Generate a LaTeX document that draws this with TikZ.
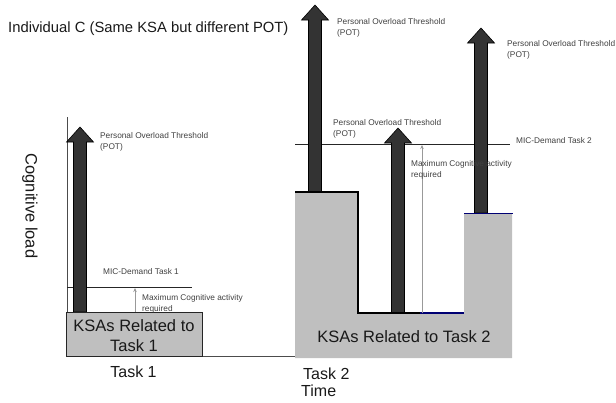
\documentclass[tikz,border=0pt]{standalone}
\usepackage{fontspec}
\setmainfont{Liberation Sans}
\usetikzlibrary{arrows.meta}

% Upward block arrow: #1 = centre x, #2 = foot y, #3 = tip y
\newcommand\potarrow[3]{%
  \filldraw[potshape]
    (#1-6.5,#2) -- (#1-6.5,#3+15) -- (#1-13.5,#3+15) -- (#1,#3)
    -- (#1+13.5,#3+15) -- (#1+6.5,#3+15) -- (#1+6.5,#2) -- cycle;}

\begin{document}
\begin{tikzpicture}[x=1pt,y=-1pt,
  potshape/.style={fill=black!80, draw=black, line width=0.6pt},
  ksafill/.style={fill=black!25},
  small/.style={font=\fontsize{8.3}{11}\selectfont, text=black!75, align=left, inner sep=0pt},
  big/.style={font=\fontsize{16.5}{20}\selectfont, text=black!90, inner sep=0pt},
  axisline/.style={draw=black!70, line width=0.6pt},
  micline/.style={draw=black!85, line width=0.9pt},
  reqarrow/.style={draw=black!40, line width=0.6pt, -{Stealth[length=4pt,width=3.5pt]}},
  thickedge/.style={draw=black, line width=2.6pt},
  blueedge/.style={draw=blue!45!black}
]
\useasboundingbox (0,0) rectangle (616,402);

% title and axis titles
\node[anchor=base west, inner sep=0pt, font=\fontsize{14.8}{17}\selectfont, text=black!90]
  (title) at (8,32) {Individual C (Same KSA but different POT)};
\node[big, rotate=-90] (ylabel) at (30,206) {Cognitive load};

% axes
\coordinate (ytop) at (67,117);
\coordinate (origin) at (67,356);
\coordinate (xend) at (295,356);
\draw[axisline] (ytop) -- (origin) -- (xend);

% ---- Task 2 KSA block (stepped grey region)
\fill[ksafill] (295,358) -- (295,192) -- (358,192) -- (358,313) -- (464,313)
  -- (464,213) -- (512,213) -- (512,358) -- cycle;
\node[big] (ksa2) at (404,337) {KSAs Related to Task 2};

% demand lines
\coordinate (mic1a) at (67,287);
\coordinate (mic1b) at (192,287);
\draw[micline] (mic1a) -- (mic1b);
\coordinate (mic2a) at (295,144);
\coordinate (mic2b) at (510,144);
\draw[micline] (mic2a) -- (mic2b);

% POT arrows
\potarrow{80}{312}{127}
\potarrow{315}{192}{5}
\potarrow{398}{313}{128}
\potarrow{481}{213}{28}

% edges of the Task 2 block
\draw[thickedge] (295,192) -- (358,192) -- (358,313) -- (420,313);
\draw[blueedge, line width=1.6pt] (420,313) -- (464,313);
\draw[blueedge, line width=0.8pt] (464,213) -- (513,213);

% ---- Task 1 KSA box
\node[draw=black!85, line width=1pt, ksafill, minimum width=136pt, minimum height=44pt,
  inner sep=0pt, anchor=north west] (ksa1box) at (66,312) {};
\node[big, align=center] (ksa1) at (134,335.5) {KSAs Related to\\Task 1};

% maximum cognitive activity arrows
\coordinate (req1a) at (135,312);
\coordinate (req1b) at (135,288);
\draw[reqarrow] (req1a) -- (req1b);
\coordinate (req2a) at (422,313);
\coordinate (req2b) at (422,145);
\draw[reqarrow] (req2a) -- (req2b);

% small labels
\node[small, anchor=north west] (pot1) at (100,132) {Personal Overload Threshold\\(POT)};
\node[small, anchor=north west] (pot2) at (337,18) {Personal Overload Threshold\\(POT)};
\node[small, anchor=north west] (pot3) at (333,119) {Personal Overload Threshold\\(POT)};
\node[small, anchor=north west] (pot4) at (507,40) {Personal Overload Threshold\\(POT)};
\node[small, anchor=west] (mic1) at (103,272) {MIC-Demand Task 1};
\node[small, anchor=west] (mic2) at (516,141) {MIC-Demand Task 2};
\node[small, anchor=north west] (req1) at (142,294) {Maximum Cognitive activity\\required};
\node[small, anchor=north west] (req2) at (411,160) {Maximum Cognitive activity\\required};

% time axis labels
\node[big, font=\fontsize{16}{19}\selectfont] (task1) at (133.5,372) {Task 1};
\node[big, font=\fontsize{16}{19}\selectfont, anchor=west] (task2) at (303,374) {Task 2};
\node[big, font=\fontsize{16}{19}\selectfont, anchor=west] (time) at (301,391) {Time};
\end{tikzpicture}
\end{document}
